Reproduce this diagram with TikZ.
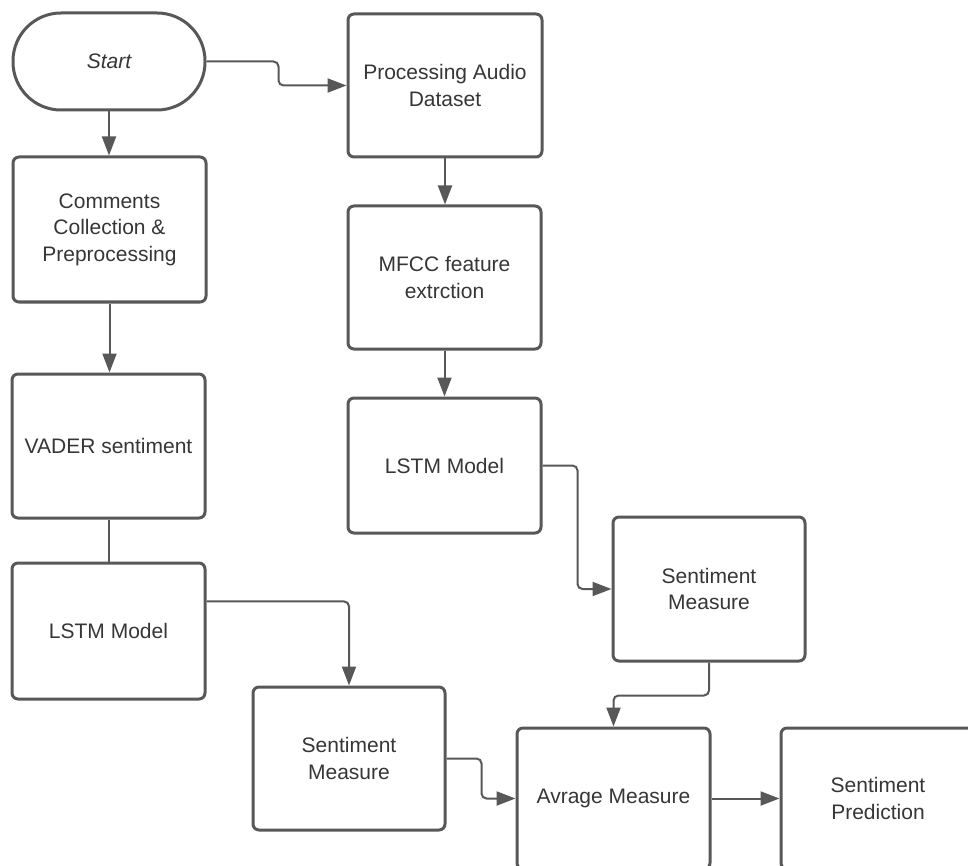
\documentclass[tikz,border=0pt]{standalone}
\usepackage{fontspec}
\setmainfont{Liberation Sans}
\usetikzlibrary{arrows.meta,calc}
\definecolor{edgegray}{HTML}{585858}
\definecolor{txtgray}{HTML}{363636}
\begin{document}
\begin{tikzpicture}[x=1pt,y=-1pt,
  box/.style={draw=edgegray, line width=3pt, rounded corners=6pt, align=center, text=txtgray,
    font=\fontsize{21}{26.5}\selectfont, inner sep=0pt, fill=white},
  conn/.style={draw=edgegray, line width=2pt, rounded corners=5pt},
  arr/.style={conn, -{Triangle[length=19pt,width=14pt]}}]
\fill[white] (0,0) rectangle (968,866);
\useasboundingbox (0,0) rectangle (968,866);

\node[box, rounded corners=48pt, minimum width=192pt, minimum height=97pt,
  font=\fontsize{21}{26.5}\selectfont\itshape] (start) at (109,61.5) {Start};
\node[box, minimum width=194pt, minimum height=143pt] (proc) at (445,85.5) {Processing Audio\\Dataset};
\node[box, minimum width=193pt, minimum height=145pt] (comm) at (109.5,229.5) {Comments\\Collection \&\\Preprocessing};
\node[box, minimum width=193pt, minimum height=143pt] (mfcc) at (444.5,277.5) {MFCC feature\\extrction};
\node[box, minimum width=193pt, minimum height=144pt] (vader) at (108.5,446) {VADER sentiment};
\node[box, minimum width=193pt, minimum height=135pt] (lstmR) at (444.5,465.5) {LSTM Model};
\node[box, minimum width=193pt, minimum height=136pt] (lstmL) at (108.5,631) {LSTM Model};
\node[box, minimum width=192pt, minimum height=144pt] (smR) at (709,589) {Sentiment\\Measure};
\node[box, minimum width=192pt, minimum height=143pt] (smL) at (349,758.5) {Sentiment\\Measure};
\node[box, minimum width=193pt, minimum height=141pt] (avr) at (613.5,798.5) {Avrage Measure};
\node[box, minimum width=194pt, minimum height=141pt] (pred) at (878,798.5) {Sentiment\\Prediction};

\draw[arr] (start.east) -- ++(72,0) |- (proc.west);
\draw[arr] (start.south) -- (start.south |- comm.north);
\draw[arr] (comm.south) -- (comm.south |- vader.north);
\draw[conn] (vader.south) -- (vader.south |- lstmL.north);
\draw[arr] (proc.south) -- (proc.south |- mfcc.north);
\draw[arr] (mfcc.south) -- (mfcc.south |- lstmR.north);
\draw[arr] (lstmR.east) -- ++(35,0) |- (smR.west);
\coordinate (lstmLout) at ($(lstmL.north east)!0.287!(lstmL.south east)$);
\draw[arr] (lstmLout) -| (smL.north);
\draw[arr] (smR.south) -- ++(0,33) -| (avr.north);
\draw[arr] (smL.east) -- ++(35,0) |- (avr.west);
\draw[arr] (avr.east) -- (pred.west);
\end{tikzpicture}
\end{document}
